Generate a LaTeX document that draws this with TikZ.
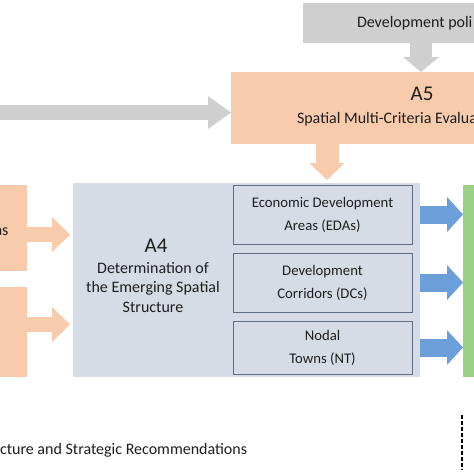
\documentclass[tikz,border=0pt]{standalone}
\usepackage{fontspec}
\setmainfont{Carlito}
\usetikzlibrary{arrows.meta,calc}
\definecolor{grayc}{HTML}{D0CFCF}
\definecolor{orangec}{HTML}{F8CBAD}
\definecolor{a4c}{HTML}{D6DCE6}
\definecolor{subborder}{HTML}{5E6C80}
\definecolor{bluec}{HTML}{6C9FD9}
\definecolor{greenc}{HTML}{9AD184}
\definecolor{txtc}{HTML}{1E1E1E}
\tikzset{
  box/.style={inner sep=0pt, outer sep=0pt, draw=none},
  txt/.style={inner sep=0pt, outer sep=0pt, text=txtc, font=\fontsize{16pt}{19.5pt}\selectfont},
  bigtxt/.style={inner sep=0pt, outer sep=0pt, text=txtc, font=\fontsize{21pt}{24pt}\selectfont},
  subbox/.style={draw=subborder, line width=0.8pt, fill=a4c, inner sep=0pt, outer sep=0pt,
    align=center, text=txtc, minimum width=179pt, font=\fontsize{14.7pt}{23pt}\selectfont},
  barrow/.style n args={4}{draw=#1, line width=#2, line cap=butt,
    -{Triangle[width=#3,length=#4,line width=0pt]}},
  dashline/.style={draw=black, line width=1.8pt, dash pattern=on 4pt off 2pt}
}
\begin{document}
\begin{tikzpicture}[x=1pt,y=-1pt]
\useasboundingbox (0,0) rectangle (474,474);
\clip (0,0) rectangle (474,474);
\fill[white] (0,0) rectangle (474,474);

% top policy box
\node[box, fill=grayc, minimum width=171pt, minimum height=40pt, anchor=north west] (policy) at (303,3) {};
\node[txt, anchor=base west] (policyT) at (357,27) {Development poli};

% A5
\node[box, fill=orangec, minimum width=243pt, minimum height=72pt, anchor=north west] (a5) at (231,72) {};
\node[bigtxt, anchor=base] (a5T) at (422,100) {A5};
\node[txt, anchor=base west] (a5S) at (297,123) {Spatial Multi-Criteria Evalua};

\coordinate (gx) at (421,0);
\draw[barrow={grayc}{22pt}{36pt}{15pt}] (policy.south -| gx) -- (a5.north -| gx);

\coordinate (lg) at (0,112.5);
\draw[barrow={grayc}{15pt}{33pt}{23pt}] (lg) -- (lg -| a5.west);

% A4
\node[box, fill=a4c, minimum width=347pt, minimum height=194pt, anchor=north west] (a4) at (73,183) {};
\node[bigtxt, anchor=base] (a4T) at (156,252) {A4};
\node[txt, align=center, anchor=base] (a4S) at (153,312) {Determination of\\the Emerging Spatial\\Structure};

\coordinate (ox) at (327,0);
\draw[barrow={orangec}{23pt}{35pt}{17pt}] (a5.south -| ox) -- ($(a4.north -| ox)+(0,-3)$);

% sub boxes
\node[subbox, minimum height=59pt, anchor=north west] (eda) at (233,185) {Economic Development\\Areas (EDAs)};
\node[subbox, minimum height=59pt, anchor=north west] (dc) at (233,253) {Development\\Corridors (DCs)};
\node[subbox, minimum height=53pt, anchor=north west] (nt) at (233,321) {Nodal\\Towns (NT)};

% green bar
\node[box, fill=greenc, minimum width=11pt, minimum height=192pt, anchor=north west] (green) at (463,185) {};

\draw[barrow={bluec}{18pt}{35pt}{16pt}] (a4.east |- eda.center) -- (green.west |- eda.center);
\draw[barrow={bluec}{18pt}{35pt}{16pt}] (a4.east |- dc.center) -- (green.west |- dc.center);
\draw[barrow={bluec}{18pt}{35pt}{16pt}] (a4.east |- nt.center) -- (green.west |- nt.center);

% left orange boxes
\node[box, fill=orangec, minimum width=27pt, minimum height=86pt, anchor=north west] (l1) at (0,185) {};
\node[box, fill=orangec, minimum width=27pt, minimum height=90pt, anchor=north west] (l2) at (0,287) {};
\node[txt, anchor=base east] (l1T) at (8.5,235) {as};

\coordinate (o1) at (0,234.5);
\coordinate (o2) at (0,324.5);
\draw[barrow={orangec}{15pt}{35pt}{18pt}] (o1 -| l1.east) -- ($(o1 -| a4.west)+(-3,0)$);
\draw[barrow={orangec}{15pt}{35pt}{18pt}] (o2 -| l2.east) -- ($(o2 -| a4.west)+(-3,0)$);

% bottom
\node[txt, anchor=base west] (bt) at (0,454) {cture and Strategic Recommendations};
\coordinate (d1) at (462,415);
\coordinate (d2) at (462,470);
\draw[dashline] (d1) -- (d2);
\end{tikzpicture}
\end{document}
